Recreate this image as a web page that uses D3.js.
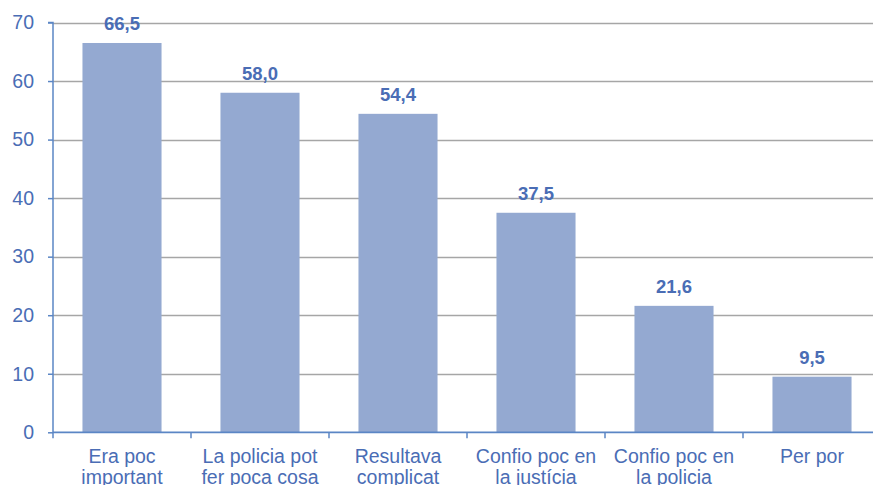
<!DOCTYPE html>
<html><head><meta charset="utf-8">
<script src="https://cdn.jsdelivr.net/npm/d3@7"></script>
<style>body{margin:0;background:#fff;}svg{display:block;}</style>
</head><body>
<svg id="c" width="873" height="485"></svg>
<script>
const categories = [["Era poc","important"],["La policia pot","fer poca cosa"],["Resultava","complicat"],["Confio poc en","la justícia"],["Confio poc en","la policia"],["Per por"]];
const values = [66.5, 58.0, 54.4, 37.5, 21.6, 9.5];
const yTicks = [0,10,20,30,40,50,60,70];

(function(){
const svg = d3.select("#c");
const mLeft = 53, mRight = 881, mTop = 22.5, mBottom = 432.3;
const axisColor = "#5b86c5", textColor = "#4a6db5", barColor = "#94a9d1", gridColor = "#a6a6a6";
const font = "Liberation Sans, Arial, sans-serif";

const x = d3.scaleBand().domain(d3.range(categories.length)).range([mLeft, mRight]).paddingInner(0.427).paddingOuter(0.2135);
const y = d3.scaleLinear().domain([0,70]).range([mBottom, mTop]);

svg.append("g").selectAll("line").data(yTicks.filter(d=>d>0)).join("line")
  .attr("x1", mLeft).attr("x2", 873).attr("y1", d=>Math.round(y(d))+0.5).attr("y2", d=>Math.round(y(d))+0.5)
  .attr("stroke", gridColor).attr("stroke-width", 1.3);

svg.append("g").selectAll("rect").data(values).join("rect")
  .attr("x", (d,i)=>x(i)).attr("width", x.bandwidth())
  .attr("y", d=>y(d)).attr("height", d=>y(0)-y(d))
  .attr("fill", barColor);

svg.append("g").selectAll("text").data(values).join("text")
  .attr("x", (d,i)=>x(i)+x.bandwidth()/2).attr("y", d=>y(d)-13)
  .attr("text-anchor","middle").attr("font-family", font).attr("font-weight","bold")
  .attr("font-size", 18.5).attr("fill", textColor)
  .text(d=>d.toFixed(1).replace(".", ","));

const ya = d3.axisLeft(y).tickValues(yTicks).tickSize(5).tickPadding(14).tickFormat(d=>d);
const gy = svg.append("g").attr("transform", `translate(${mLeft},0)`).call(ya);
gy.select(".domain").attr("stroke", axisColor).attr("stroke-width", 1.5).attr("d", `M-5,${y(70)}H0V${y(0)}`);
gy.selectAll(".tick line").attr("stroke", axisColor).attr("stroke-width", 1.5);
gy.selectAll(".tick text").attr("font-family", font).attr("font-size", 19.5).attr("fill", textColor);

const xEdges = d3.range(categories.length+1).map(i=>mLeft + i*(mRight-mLeft)/categories.length);
svg.append("line").attr("x1", mLeft).attr("x2", 873).attr("y1", y(0)).attr("y2", y(0))
  .attr("stroke", axisColor).attr("stroke-width", 1.8);
svg.append("g").selectAll("line").data(xEdges).join("line")
  .attr("x1", d=>d).attr("x2", d=>d).attr("y1", y(0)).attr("y2", y(0)+6)
  .attr("stroke", axisColor).attr("stroke-width", 1.5);

const lbl = svg.append("g").selectAll("text").data(categories).join("text")
  .attr("x", (d,i)=>x(i)+x.bandwidth()/2).attr("y", 462.5)
  .attr("text-anchor","middle").attr("font-family", font).attr("font-size", 19.5).attr("fill", textColor);
lbl.selectAll("tspan").data(d=>d).join("tspan")
  .attr("x", function(){return this.parentNode.getAttribute("x");})
  .attr("dy", (d,i)=>i===0?0:21).text(d=>d);
})();
</script>
</body></html>
